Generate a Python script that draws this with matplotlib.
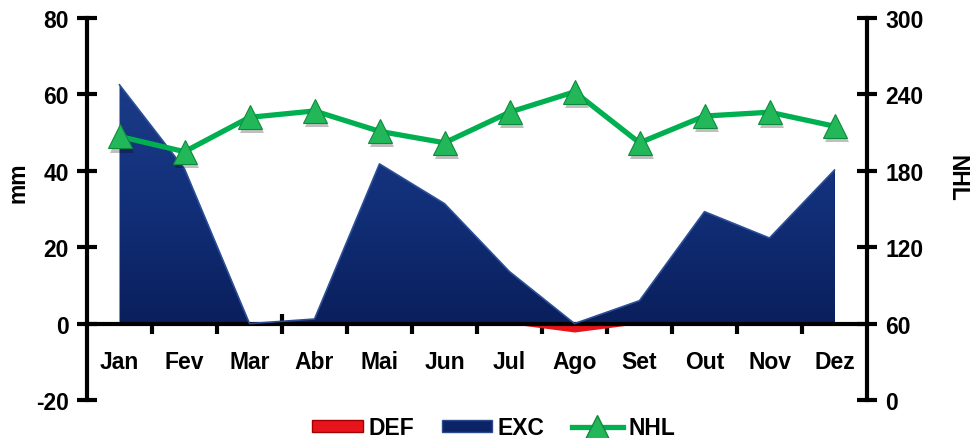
import numpy as np
import matplotlib.pyplot as plt
import matplotlib.transforms as mtransforms
from matplotlib.patches import Patch, Polygon
from matplotlib.lines import Line2D
from matplotlib.colors import LinearSegmentedColormap

plt.rcParams['font.family'] = ['Liberation Sans', 'DejaVu Sans']
plt.rcParams['font.weight'] = 'bold'
plt.rcParams['axes.unicode_minus'] = False

meses = ['Jan', 'Fev', 'Mar', 'Abr', 'Mai', 'Jun', 'Jul', 'Ago', 'Set', 'Out', 'Nov', 'Dez']
exc = [62.5, 40.5, 0, 1.2, 41.8, 31.4, 13.6, 0, 6.0, 29.3, 22.4, 40.2]
deficit = [0, 0, 0, 0, 0, 0, 0, -2.2, 0, 0, 0, 0]
nhl = [207, 195, 222, 227, 211, 202, 226, 242, 202, 223, 226, 215]

x = np.arange(len(meses))
fs = 16.5

fig = plt.figure(figsize=(9.74, 4.39), dpi=100)
ax = fig.add_axes([87/974, 1 - 401/439, 780/974, 382/439])
ax2 = ax.twinx()

navy = '#0c2466'
ax.fill_between(x, 0, exc, color=navy, lw=0, zorder=2)
# gradiente vertical recortado pela area (efeito 3D)
grad = np.linspace(0, 1, 256).reshape(-1, 1)
cmap = LinearSegmentedColormap.from_list('exc', ['#0a1f5c', '#12307a', '#1d3c88'])
img = ax.imshow(grad, cmap=cmap, aspect='auto', extent=[-0.5, 11.5, 0, 65],
                origin='lower', zorder=2.1, interpolation='bilinear')
poly = Polygon(np.column_stack([np.r_[x, x[::-1]], np.r_[exc, np.zeros(len(x))]]),
               closed=True, transform=ax.transData)
img.set_clip_path(poly)
ax.plot(x, exc, color='#2d4f98', lw=1.2, zorder=3)
ax.fill_between(x, 0, deficit, color='#e8141b', lw=0, zorder=2)

ax.set_xlim(-0.5, 11.5)
ax.set_ylim(-20, 80)
ax.set_yticks(np.arange(-20, 81, 20))
ax.set_xticks(np.arange(0.5, 11, 1))
ax.set_xticklabels([])
ax.tick_params(axis='x', which='major', direction='inout', length=14, width=3)
ax.set_xticks(x, minor=True)
ax.set_xticklabels(meses, minor=True)
ax.tick_params(axis='x', which='minor', length=0, pad=19, labelsize=fs)
ax.tick_params(axis='y', direction='inout', length=14, width=3, labelsize=fs, pad=6)
ax.spines['bottom'].set_position(('data', 0))
ax.spines['bottom'].set_linewidth(3)
ax.spines['left'].set_linewidth(3)
ax.spines['top'].set_visible(False)
ax.spines['right'].set_visible(False)

sombra = mtransforms.offset_copy(ax2.transData, fig=fig, x=2, y=-3, units='points')
ax2.plot(x, nhl, ls='none', marker='^', markersize=17, color='#000000', alpha=0.25,
         markeredgewidth=0, transform=sombra, zorder=4)
ax2.plot(x, nhl, color='#00b050', lw=3.8, marker='^', markersize=17,
         markerfacecolor='#22b85a', markeredgecolor='#0e8a3c', markeredgewidth=0.8,
         zorder=5)
ax2.set_ylim(0, 300)
ax2.set_yticks(np.arange(0, 301, 60))
ax2.tick_params(axis='y', direction='inout', length=14, width=3, labelsize=fs, pad=6)
for s in ['top', 'bottom', 'left']:
    ax2.spines[s].set_visible(False)
ax2.spines['right'].set_linewidth(3)

fig.text(18/974, 1 - 183/439, 'mm', rotation=90, fontsize=fs, fontweight='bold',
         ha='center', va='center')
fig.text(957/974, 1 - 178/439, 'NHL', rotation=-90, fontsize=fs, fontweight='bold',
         ha='center', va='center')

handles = [Patch(facecolor='#e8141b', edgecolor='#a00000', label='DEF'),
           Patch(facecolor=navy, edgecolor='#2a4a90', label='EXC'),
           Line2D([0], [0], color='#00b050', lw=3.8, marker='^', markersize=17,
                  markerfacecolor='#22b85a', markeredgecolor='#0e8a3c', label='NHL')]
fig.legend(handles=handles, loc='lower center', bbox_to_anchor=(0.507, -0.05), ncol=3,
           frameon=False, fontsize=fs, handlelength=2.2, handleheight=0.45,
           columnspacing=1.2, handletextpad=0.25)

fig.savefig('out.png', dpi=100)
